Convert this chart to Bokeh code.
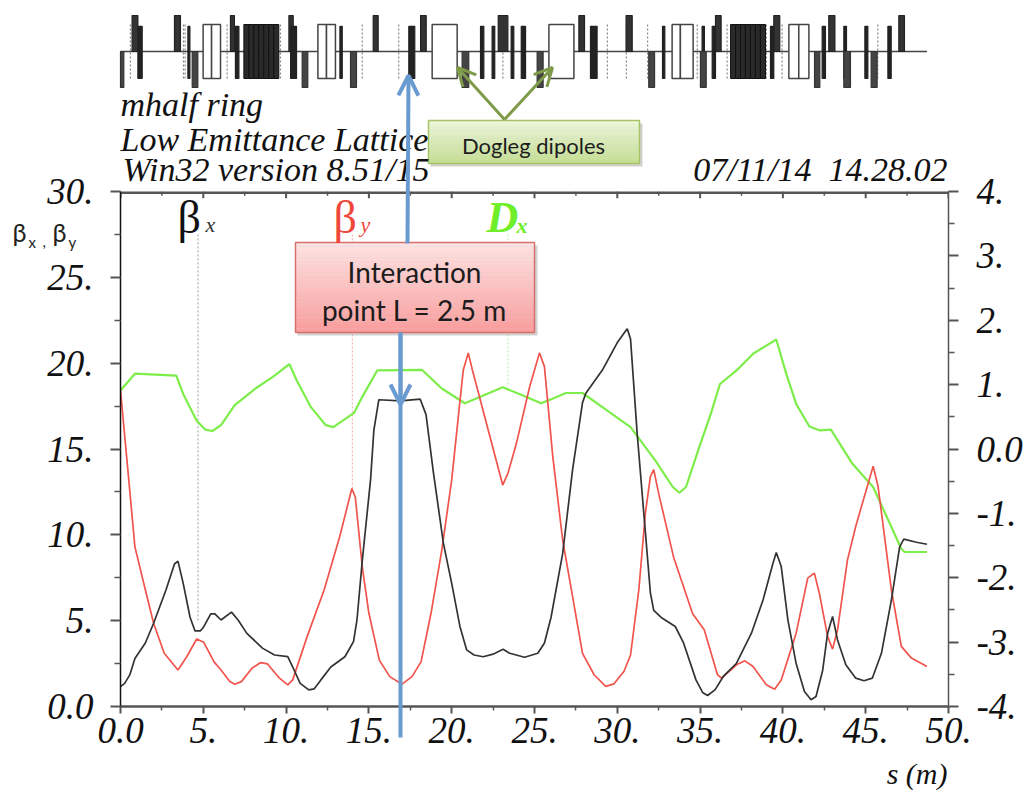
from bokeh.embed import file_html
from bokeh.resources import INLINE
from bokeh.plotting import figure
from bokeh.layouts import row, column
from bokeh.models import Range1d, LinearAxis, FixedTicker, Label, Arrow, OpenHead
import numpy as np

# ---------- optics data ----------
beta_x_s = [0,.25,.56,.87,1.5,2.0,2.75,3.26,3.47,3.78,4.2,4.5,4.82,5.03,5.45,5.7,6.07,6.7,7.1,7.63,8.57,9.3,10.1,10.4,10.85,11.37,11.7,12.1,12.7,13.55,14.07,14.28,14.6,15.1,15.3,15.6,16.9,18.1,18.45,18.9,19.5,20,20.5,20.9,21.35,21.9,22.5,23.1,23.5,24.4,25.2,25.6,26,26.7,27.3,27.9,28.1,29.1,30,30.6,30.8,31.2,31.7,32,32.2,32.7,33.5,34,34.75,35.15,35.45,35.9,36.4,37.2,38.1,38.8,39.4,39.6,39.9,40.3,40.8,41.3,41.7,42,42.4,42.7,43,43.3,43.8,44.4,44.9,45.4,45.95,46.55,47.05,47.3,48.06,48.7]
beta_x = [1.16,1.35,1.84,2.8,3.7,4.85,6.8,8.3,8.47,7.2,5.2,4.4,4.4,4.65,5.4,5.4,5.04,5.5,5.04,4.26,3.4,3.0,2.9,2.3,1.35,.97,1.03,1.55,2.3,2.9,3.78,5.04,8.5,13.2,16.1,17.87,17.8,17.9,17,13.6,9.5,7.17,4.65,3.3,3,2.9,3.05,3.33,3.1,2.87,3.1,3.7,5.2,8.9,13.8,17.7,18.25,19.6,21.2,22,21.4,15.9,10.1,6.6,5.6,5.15,4.66,3.7,1.55,.82,.64,.97,1.75,2.52,4.27,6.2,8.35,8.97,8.15,5.05,2.5,.87,.39,.58,2.1,4.27,5.24,3.88,2.43,1.65,1.5,1.65,3.1,6.2,9.3,9.75,9.57,9.45]

beta_y_s = [0,.5,.87,1.5,2,2.64,3.47,4,4.6,5.03,5.65,6.07,6.6,6.9,7.3,7.94,8.46,8.88,9.6,10.1,10.4,11.27,12.3,13.24,13.97,14.18,14.6,15,15.63,16.26,17,17.6,18.15,18.75,19.4,20,20.5,20.7,21,21.25,23.08,23.4,23.9,24.7,25.3,25.6,26.1,26.7,27.3,27.9,28.6,29.3,29.8,30.4,30.8,31.3,31.7,32,32.2,32.5,33.4,34.55,35.25,36.05,36.3,37.2,37.7,38.2,39,39.5,39.9,40.8,41.5,41.9,42.2,42.7,43,43.3,43.9,44.4,45.45,45.75,46.55,47.15,47.76,48.7]
beta_y = [18.4,13.2,9.3,6.8,4.85,3.1,2.13,2.9,3.93,3.74,2.6,2.13,1.45,1.3,1.45,2.23,2.56,2.48,1.65,1.26,1.55,4.07,6.8,9.9,12.7,12.2,8.14,5.43,2.7,1.74,1.3,1.74,2.6,5.43,9.1,13.2,17.8,19.6,20.6,19.6,12.9,13.6,15.3,18.6,20.6,19.8,14.6,9.7,6.4,3.1,1.85,1.17,1.32,2.04,3,6.8,11.3,13.4,13.8,12.4,8.7,5.4,4.47,1.85,1.65,2.43,2.66,2.33,1.26,1,1.55,4.27,7.48,7.77,6.6,4.08,3.34,4.47,8.54,10.5,14,12.8,6.8,3.5,2.82,2.33]

dx_s = [0,.87,3.37,3.78,4.6,5.13,5.55,6.07,6.9,8.15,9.2,10.2,10.65,11.5,12.4,12.85,14.1,14.6,15.5,18.2,19.4,20.8,23.08,24.3,25.4,25.9,26.9,27.9,29.1,30.8,32.3,33.35,33.75,34.15,34.95,35.65,36.2,37.2,38.2,39.6,40.2,40.8,41.6,42.2,42.9,44.2,45.45,47.15,47.35,48.7]
dx = [.91,1.17,1.14,.86,.44,.3,.28,.37,.68,.94,1.12,1.32,1.06,.65,.37,.34,.56,.81,1.22,1.23,.94,.71,.96,.83,.71,.76,.87,.87,.65,.34,-.18,-.59,-.68,-.59,.03,.55,1.01,1.22,1.48,1.7,1.17,.7,.35,.29,.3,-.23,-.59,-1.55,-1.6,-1.6]

# ---------- ticks ----------
x_major = [0,5,10,15,20,25,30,35,40,45,50]
x_minor = [2.5,7.5,12.5,17.5,22.5,27.5,32.5,37.5,42.5,47.5]
x_labels = ["0.0","5.","10.","15.","20.","25.","30.","35.","40.","45.","50."]
y_major = [0,5,10,15,20,25,30]
y_minor = [2.5,7.5,12.5,17.5,22.5,27.5]
y_labels = ["0.0","5.","10.","15.","20.","25.","30."]
r_major = [-4,-3,-2,-1,0,1,2,3,4]
r_minor = [-3.5,-2.5,-1.5,-.5,.5,1.5,2.5,3.5]
r_labels = ["-4.","-3.","-2.","-1.","0.0","1.","2.","3.","4."]

# ---------- lattice elements (s start, s end) ----------
high = [(.7,1.05),(3.26,3.62),(6.64,6.88),(10.17,10.43),(15.26,15.56),(18.12,18.46),(22.81,23.39),(27.68,28.02),(30.53,30.9),(35.93,36.27),(39.45,39.81),(42.77,43.14),(47.0,47.34)]
mid = [(1.05,1.31),(4.07,4.19),(6.94,7.15),(10.27,10.63),(13.25,13.39),(17.41,17.77),(21.74,21.94),(22.44,22.6),(23.59,23.75),(24.2,24.46),(28.38,28.78),(32.73,32.87),(35.12,35.26),(35.73,35.93),(39.25,39.45),(42.37,42.57),(43.68,43.84),(44.95,45.13),(46.34,46.54)]
low = [(0,.2),(4.33,4.67),(10.97,11.31),(13.89,14.25),(20.63,21.03),(25.16,25.52),(31.9,32.25),(35.02,35.37),(41.91,42.23),(43.68,44.08),(45.33,45.69)]
dipole = [(4.99,5.5),(5.5,6.04),(11.92,12.44),(12.44,12.98),(18.82,20.33),(25.87,27.38),(33.31,33.81),(33.81,34.58),(40.36,40.96),(40.96,41.57)]
dense = [(7.45,7.75),(7.75,8.05),(8.05,8.35),(8.35,8.65),(8.65,8.95),(8.95,9.25),(9.25,9.56),(36.84,37.14),(37.14,37.44),(37.44,37.74),(37.74,38.04),(38.04,38.34),(38.34,38.64),(38.64,38.95)]
markers = [.6,3.8,3.9,6.44,9.66,14.6,16.8,23.09,29.4,30.55,31.83,34.83,36.63,39.0,39.95,45.73]

# ---------- layout ----------
W, H = 1025, 795
L, R, T, B = 120, 948, 191, 706
p = figure(width=W, height=H, frame_width=R-L, frame_height=B-T,
           x_range=Range1d(0, 50), y_range=Range1d(0, 30),
           output_backend="svg", toolbar_location=None,
           min_border_left=L, min_border_right=W-R, min_border_top=T, min_border_bottom=H-B,
           x_axis_type=None, y_axis_type=None)
p.outline_line_color = None
p.grid.visible = False
p.extra_y_ranges = {"right": Range1d(-4, 4)}

SERIF = "Liberation Serif"
def style(ax, ticks, minors, labels, color, lw, out, mout, standoff):
    ax.ticker = FixedTicker(ticks=ticks, minor_ticks=minors)
    ax.major_label_overrides = {t: l for t, l in zip(ticks, labels)}
    ax.major_label_text_font = SERIF
    ax.major_label_text_font_style = "italic"
    ax.major_label_text_font_size = "37px"
    ax.major_label_text_color = "#111111"
    ax.major_label_standoff = standoff
    ax.axis_line_color = color
    ax.axis_line_width = lw
    ax.major_tick_line_color = "#555555"
    ax.minor_tick_line_color = "#555555"
    ax.major_tick_line_width = 2
    ax.minor_tick_line_width = 1.5
    ax.major_tick_out = out
    ax.major_tick_in = 0
    ax.minor_tick_out = mout
    ax.minor_tick_in = 0

left = LinearAxis()
style(left, y_major, y_minor, y_labels, "#111111", 1.5, 10, 6, 17)
p.add_layout(left, "left")
right = LinearAxis(y_range_name="right")
style(right, r_major, r_minor, r_labels, "#555555", 1.5, 10, 6, 18)
p.add_layout(right, "right")
bottom = LinearAxis()
style(bottom, x_major, x_minor, x_labels, "#555555", 2.5, 7, 4, 4)
p.add_layout(bottom, "below")

# top axis line and its inward ticks
p.segment(x0=[0], y0=[30], x1=[50], y1=[30], line_color="#555555", line_width=5)
p.segment(x0=x_major, y0=[30]*len(x_major), x1=x_major, y1=[29.6]*len(x_major), line_color="#555555", line_width=2)
p.segment(x0=x_minor, y0=[30]*len(x_minor), x1=x_minor, y1=[29.75]*len(x_minor), line_color="#555555", line_width=1.5)

# dotted label leaders
p.segment(x0=[4.68], y0=[27.5], x1=[4.68], y1=[4.9], line_color="#999999", line_dash="2 2", line_width=1)
p.segment(x0=[14.0], y0=[27.5], x1=[14.0], y1=[12.7], line_color="#f4a7a3", line_dash="2 2", line_width=1)
p.segment(x0=[23.4], y0=[27.5], x1=[23.4], y1=[18.6], line_color="#b5f09a", line_dash="2 2", line_width=1)

# curves
p.line(dx_s, dx, y_range_name="right", line_color="#7ded4a", line_width=2.2)
p.line(beta_y_s, beta_y, line_color="#f0544c", line_width=1.7)
p.line(beta_x_s, beta_x, line_color="#333333", line_width=1.7)

# ---------- transparent overlay for everything around the axes ----------
o = figure(width=W, height=H, x_range=Range1d(0, W), y_range=Range1d(H, 0),
           output_backend="svg", toolbar_location=None,
           min_border=0, x_axis_type=None, y_axis_type=None,
           background_fill_color=None, border_fill_color=None)
o.outline_line_color = None
o.grid.visible = False
PX_PER_M = (R-L)/50
o.extra_x_ranges = {"s": Range1d(-L/PX_PER_M, (W-L)/PX_PER_M)}
o.extra_y_ranges = {"lat": Range1d((51-H)/36, 51/36)}

def bars(items, top_, bot, fill, line, lw=1.2):
    o.quad(left=[a for a, b in items], right=[b for a, b in items],
           top=[top_]*len(items), bottom=[bot]*len(items), x_range_name="s", y_range_name="lat",
           fill_color=fill, line_color=line, line_width=lw)

o.segment(x0=markers, y0=[.75]*len(markers), x1=markers, y1=[-.75]*len(markers),
          x_range_name="s", y_range_name="lat", line_color="#888888", line_dash="2 2", line_width=1.2)
o.segment(x0=[0], y0=[0], x1=[48.7], y1=[0], x_range_name="s", y_range_name="lat", line_color="#444444", line_width=1.6)
bars(dipole, .75, -.75, "#ffffff", "#444444", 1.5)
bars(dense, .75, -.75, "#2a2a2a", "#111111", 1.0)
bars(high, 1, 0, "#333333", "#222222")
bars(mid, .7, -.75, "#222222", "#222222")
bars(low, 0, -1, "#444444", "#333333")

def box(x0, x1, y0, y1, ctop, cbot, edge):
    o.quad(left=[x0+2], right=[x1+3], top=[y0+3], bottom=[y1+3], fill_color="#999999", fill_alpha=.45, line_color=None)
    n = 24
    ys = np.linspace(y0, y1, n+1)
    a, b = np.array(ctop), np.array(cbot)
    for i in range(n):
        c = a + (b-a)*i/(n-1)
        o.quad(left=[x0], right=[x1], top=[ys[i]], bottom=[ys[i+1]],
               fill_color="#%02x%02x%02x" % tuple(int(v) for v in c), line_color=None)
    o.quad(left=[x0], right=[x1], top=[y0], bottom=[y1], fill_color=None, line_color=edge, line_width=1.5)

box(295, 534, 242, 332, (255, 226, 226), (250, 158, 158), "#d5706c")
box(428, 639, 120, 163, (236, 246, 218), (197, 224, 144), "#a6c464")

def text(s, x, y, font=SERIF, size=34, style_="italic", color="#111111", align="left"):
    # the renderer places these texts about a third of the size too low
    o.add_layout(Label(x=x, y=y-0.33*size, text=s, text_font=font, text_font_size=f"{size}px",
                       text_font_style=style_, text_color=color, text_align=align,
                       text_baseline="alphabetic"))

text("mhalf ring", 120, 115)
text("Low Emittance Lattice", 120, 150)
text("Win32 version 8.51/15", 122, 180)
text("07/11/14\u00a0\u00a014.28.02", 947, 180, align="right")
text("s (m)", 947, 783, size=30, align="right")

text("β", 177, 232, size=46, style_="normal")
text("x", 205, 231, size=22, color="#333333")
text("β", 333, 232, size=46, style_="normal", color="#f0473c")
text("y", 360, 231, size=22, color="#f0473c")
text("D", 486, 232, size=44, style_="bold italic", color="#6fee2a")
text("x", 516, 232, size=22, style_="bold italic", color="#6fee2a")

text("β", 12, 240, font="Lato", size=25, style_="normal", color="#222222")
text("x", 28, 246, font="Lato", size=15, style_="normal", color="#222222")
text(",", 42, 246, font="Lato", size=15, style_="normal", color="#222222")
text("β", 52, 240, font="Lato", size=25, style_="normal", color="#222222")
text("y", 68, 246, font="Lato", size=15, style_="normal", color="#222222")

text("Interaction", 414, 281, font="Lato", size=28, style_="normal", color="#1c1c1c", align="center")
text("point L = 2.5 m", 414, 319, font="Lato", size=28, style_="normal", color="#1c1c1c", align="center")
text("Dogleg dipoles", 533, 152, font="Lato", size=22, style_="normal", color="#1c1c1c", align="center")

BLUE = "#6a9bd0"
GREEN = "#7f9a48"
def arrow(x0, y0, x1, y1, color, lw, head=True, size=20):
    end = OpenHead(size=size, line_color=color, line_width=lw) if head else None
    o.add_layout(Arrow(end=end, x_start=x0, y_start=y0, x_end=x1, y_end=y1, line_color=color, line_width=lw))

arrow(407, 243, 408, 75, BLUE, 4)
arrow(400, 332, 400, 737, BLUE, 4, head=False)
arrow(400, 332, 400, 404, BLUE, 4)
arrow(504, 119, 457, 67, GREEN, 3, size=18)
arrow(504, 119, 552, 67, GREEN, 3, size=18)

wrap = column(o, margin=(0, 0, 0, -W))
open("out.html", "w").write(file_html(row(column(p), wrap), INLINE))
